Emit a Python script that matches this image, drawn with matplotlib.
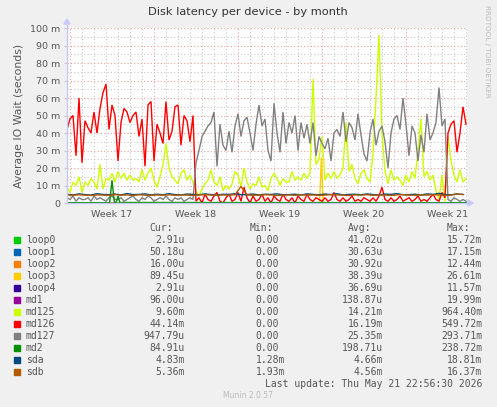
import matplotlib
matplotlib.use('Agg')
import matplotlib.pyplot as plt
from matplotlib.patches import Rectangle, FancyArrow
import numpy as np

# ---------------- data ----------------
devices = ['loop0', 'loop1', 'loop2', 'loop3', 'loop4', 'md1', 'md125',
           'md126', 'md127', 'md2', 'sda', 'sdb']
colors = ['#00CC00', '#0066B3', '#FF8000', '#FFCC00', '#330099', '#990099',
          '#CCFF00', '#FF0000', '#808080', '#008F00', '#00487D', '#B35A00']
cur_vals = ['2.91u', '50.18u', '16.00u', '89.45u', '2.91u', '96.00u', '9.60m',
            '44.14m', '947.79u', '84.91u', '4.83m', '5.36m']
min_vals = ['0.00', '0.00', '0.00', '0.00', '0.00', '0.00', '0.00', '0.00',
            '0.00', '0.00', '1.28m', '1.93m']
avg_vals = ['41.02u', '30.63u', '30.92u', '38.39u', '36.69u', '138.87u', '14.21m',
            '16.19m', '25.35m', '198.71u', '4.66m', '4.56m']
max_vals = ['15.72m', '17.15m', '12.44m', '26.61m', '11.57m', '19.99m', '964.40m',
            '549.72m', '293.71m', '238.72m', '18.81m', '16.37m']

week_labels = ['Week 17', 'Week 18', 'Week 19', 'Week 20', 'Week 21']
week_starts = [0.25, 7.25, 14.25, 21.25, 28.25]   # days from left edge
y_ticks = [0, 10, 20, 30, 40, 50, 60, 70, 80, 90, 100]
y_tick_labels = ['0', '10 m', '20 m', '30 m', '40 m', '50 m', '60 m', '70 m',
                 '80 m', '90 m', '100 m']

# main series, sampled every 0.25 day (values in milliseconds)
md125 = [9, 6, 12, 10, 15, 6, 12, 10, 14, 12, 8, 22, 8, 14, 13, 17, 12, 18, 14, 17, 13, 16, 13,
         14, 12, 19, 13, 17, 20, 13, 9, 15, 22, 34, 20, 15, 13, 11, 17, 19, 13, 16, 12,
         7, 4, 8, 11, 13, 19, 12, 10, 15, 7, 10, 8, 11, 18, 16, 9, 20, 12, 8, 11, 10, 15, 9,
         10, 7, 14, 17, 14, 10, 14, 12, 12, 18, 13, 15, 13, 17, 14, 17, 71, 22, 25, 38, 13, 17, 14, 18, 14,
         16, 20, 46, 18, 22, 14, 11, 17, 19, 14, 12, 28, 60, 96, 40, 18, 11, 19, 13, 15, 13, 10, 16, 12, 18,
         14, 30, 48, 15, 18, 13, 16, 7, 2, 16, 1, 38, 24, 16, 12, 19, 12, 14]
md126 = [42, 48, 50, 27, 60, 23, 47, 43, 40, 52, 40, 54, 63, 68, 42, 56, 50, 24, 46, 54, 52, 46, 50,
         52, 38, 48, 21, 56, 58, 24, 45, 40, 34, 58, 36, 41, 55, 56, 33, 50, 47, 35, 50,
         1, 3, 0, 5, 2, 1, 4, 6, 1, 0, 3, 5, 1, 2, 6, 1, 9, 3, 0, 4, 1, 2, 5,
         1, 3, 0, 4, 2, 1, 5, 2, 1, 3, 0, 4, 2, 1, 5, 2, 1, 3, 2, 1, 3, 1, 2, 6, 2,
         1, 3, 1, 2, 4, 1, 2, 1, 3, 2, 1, 3, 1, 4, 9, 2, 1, 3, 1, 2, 4, 1, 2, 3, 1,
         2, 4, 1, 2, 1, 3, 5, 2, 1, 6, 3,
         40, 45, 47, 29, 40, 55, 45]
md127 = [3, 2, 4, 1, 3, 2, 2, 3, 1, 4, 2, 3, 2, 1, 3, 4, 2, 2, 3, 1, 2, 3, 4,
         2, 1, 3, 2, 4, 3, 1, 2, 3, 2, 4, 2, 1, 3, 2, 3, 1, 2, 3, 2,
         23, 30, 38, 41, 44, 46, 52, 21, 45, 33, 30, 41, 29, 44, 51, 38, 47, 49, 40, 30, 45, 56, 44,
         48, 30, 24, 57, 40, 29, 52, 34, 46, 40, 50, 30, 46, 37, 45, 34, 46, 27, 38, 34, 31, 37, 24, 40, 42,
         38, 52, 35, 46, 43, 36, 51, 39, 28, 24, 40, 48, 33, 41, 44, 35, 20, 40, 48, 50, 42, 60, 45, 27, 44,
         40, 24, 39, 29, 51, 36, 40, 46, 66, 44, 48,
         2, 1, 3, 2, 1, 2, 1]
main_step = 0.25

# disk series, sampled every 0.5 day
sda = [5.0, 4.6, 5.2, 4.8, 4.5, 5.3, 4.9, 4.7, 5.1, 4.6, 5.4, 4.8, 4.9, 5.2, 4.6, 5.0, 4.7, 5.3, 4.8, 4.6,
       5.1, 4.9, 4.7, 5.2, 4.8, 4.5, 5.0, 4.9, 5.3, 4.7, 4.8, 5.1, 4.6, 5.0, 4.9, 5.2, 4.7, 4.8, 5.0, 4.6,
       5.2, 4.9, 4.7, 5.1, 4.8, 5.3, 4.6, 4.9, 5.0, 4.7, 5.2, 4.8, 4.6, 5.1, 4.9, 5.4, 4.7, 4.8, 5.0, 4.6,
       5.2, 4.9, 5.5, 4.8, 4.7, 5.1, 4.9]
sdb = [4.6, 4.4, 4.7, 4.5, 4.3, 4.6, 4.5, 4.4, 4.8, 4.5, 4.6, 4.3, 4.7, 4.5, 4.4, 4.6, 4.5, 4.7, 4.4, 4.6,
       4.5, 4.3, 4.6, 4.8, 4.5, 4.4, 4.6, 4.5, 4.7, 9.5, 4.6, 4.4, 4.5, 4.7, 4.6, 4.3, 4.5, 4.6, 4.4, 4.7,
       4.5, 4.6, 4.4, 4.5, 4.8, 4.6, 4.5, 4.3, 4.6, 4.5, 4.7, 4.4, 4.6, 4.5, 4.3, 4.6, 4.8, 4.5, 4.4, 4.6,
       4.5, 4.7, 4.6, 4.4, 4.5, 5.2, 4.8]
disk_step = 0.5

# sparse series (day, value)
md2_days = [0, 3.55, 3.75, 3.95, 4.1, 4.25, 4.4, 33.25]
md2_vals = [0.2, 0.2, 13, 0.3, 0.3, 4, 0.3, 0.2]
loop3_days = [0, 21.05, 21.2, 21.35, 33.25]
loop3_vals = [0.0, 0.0, 26, 0.0, 0.0]
flat_days = [0, 33.25]
flat_vals = [0.0, 0.0]

# ---------------- figure ----------------
W, H = 497, 407
fig = plt.figure(figsize=(W / 100, H / 100), dpi=100)
fig.patch.set_facecolor('#F0F0F0')
TXT = '#555555'

L, R, T, B = 67, 467, 28, 203
ax = fig.add_axes([L / W, 1 - B / H, (R - L) / W, (B - T) / H])
ax.set_facecolor('white')
XMAX = (R - L) / 12.0
ax.set_xlim(0, XMAX)
ax.set_ylim(0, 100)
for s in ax.spines.values():
    s.set_visible(False)

# grid
dot = (0, (1, 2))
for k in range(0, 34):
    d = week_starts[0] + k
    if d > XMAX:
        break
    if (k % 7) == 0:
        ax.axvline(d, color='#F2A0A0', lw=0.8, ls=dot, zorder=1)
    else:
        ax.axvline(d, color='#C8C8C8', lw=0.8, ls=dot, zorder=1)
for v in range(5, 101, 5):
    if v % 10 == 0:
        ax.axhline(v, color='#F2A0A0', lw=0.8, ls=dot, zorder=1)
    else:
        ax.axhline(v, color='#C8C8C8', lw=0.8, ls=dot, zorder=1)

# series (munin draw order)
x_main = np.arange(len(md125)) * main_step
x_disk = np.arange(len(sda)) * disk_step
series = {
    'loop0': (flat_days, flat_vals), 'loop1': (flat_days, flat_vals),
    'loop2': (flat_days, flat_vals), 'loop3': (loop3_days, loop3_vals),
    'loop4': (flat_days, flat_vals), 'md1': (flat_days, flat_vals),
    'md125': (x_main, md125), 'md126': (x_main, md126), 'md127': (x_main, md127),
    'md2': (md2_days, md2_vals), 'sda': (x_disk, sda), 'sdb': (x_disk, sdb),
}
for i, name in enumerate(devices):
    xs, ys = series[name]
    ax.plot(xs, ys, color=colors[i], lw=1.0, zorder=3 + i, solid_joinstyle='miter')

# axes lines and arrows
axis_col = '#C8C8FF'
ax.plot([0, 0], [0, 102], color=axis_col, lw=1.0, clip_on=False, zorder=20)
ax.plot([0, XMAX + 0.2], [0, 0], color=axis_col, lw=1.0, clip_on=False, zorder=20)
fig.add_artist(plt.Polygon([[(L - 3) / W, 1 - 24 / H], [(L + 3) / W, 1 - 24 / H], [L / W, 1 - 19 / H]],
                           closed=True, color=axis_col, transform=fig.transFigure))
fig.add_artist(plt.Polygon([[(R + 1) / W, 1 - (B - 3) / H], [(R + 1) / W, 1 - (B + 3) / H], [(R + 6) / W, 1 - B / H]],
                           closed=True, color=axis_col, transform=fig.transFigure))

# ticks
ax.set_yticks(y_ticks)
ax.set_yticklabels(y_tick_labels)
ax.set_xticks([w + 3.5 for w in week_starts])
ax.set_xticklabels(week_labels)
ax.tick_params(axis='y', length=2, width=0.8, color='#C8C8C8', labelsize=6.8, labelcolor=TXT, pad=3)
ax.tick_params(axis='x', length=0, labelsize=6.8, labelcolor=TXT, pad=5)

ax.set_ylabel('Average IO Wait (seconds)', fontsize=7.8, color=TXT, labelpad=4)

fig.text(248 / W, 1 - 12 / H, 'Disk latency per device - by month', ha='center', va='center',
         fontsize=8.2, color='#333333')
fig.text(487 / W, 1 - 5 / H, 'RRDTOOL / TOBI OETIKER', ha='center', va='top', rotation=270,
         fontsize=5.2, color='#BBBBBB')

# legend
mono = 'DejaVu Sans Mono'
LFS = 7.0
cols_right = [185, 285, 383, 482]
headers = ['Cur:', 'Min:', 'Avg:', 'Max:']
y0 = 228
for c, h in zip(cols_right, headers):
    fig.text((c - 12) / W, 1 - y0 / H, h, ha='right', va='center', family=mono, fontsize=LFS, color=TXT)
for i, name in enumerate(devices):
    y = y0 + 12 * (i + 1)
    fig.add_artist(Rectangle((14 / W, 1 - (y + 3) / H), 6 / W, 6 / H, color=colors[i],
                             transform=fig.transFigure))
    fig.text(26 / W, 1 - y / H, name, ha='left', va='center', family=mono, fontsize=LFS, color=TXT)
    for c, vals in zip(cols_right, [cur_vals, min_vals, avg_vals, max_vals]):
        v = vals[i]
        xr = c if v[-1].isalpha() else c - 6
        fig.text(xr / W, 1 - y / H, v, ha='right', va='center', family=mono, fontsize=LFS, color=TXT)
yl = y0 + 12 * (len(devices) + 1)
fig.text(482 / W, 1 - yl / H, 'Last update: Thu May 21 22:56:30 2026', ha='right', va='center',
         family=mono, fontsize=LFS, color=TXT)
fig.text(248 / W, 1 - 396 / H, 'Munin 2.0.57', ha='center', va='center', fontsize=5.5, color='#BBBBBB')

fig.savefig('out.png', dpi=100, facecolor=fig.get_facecolor())
